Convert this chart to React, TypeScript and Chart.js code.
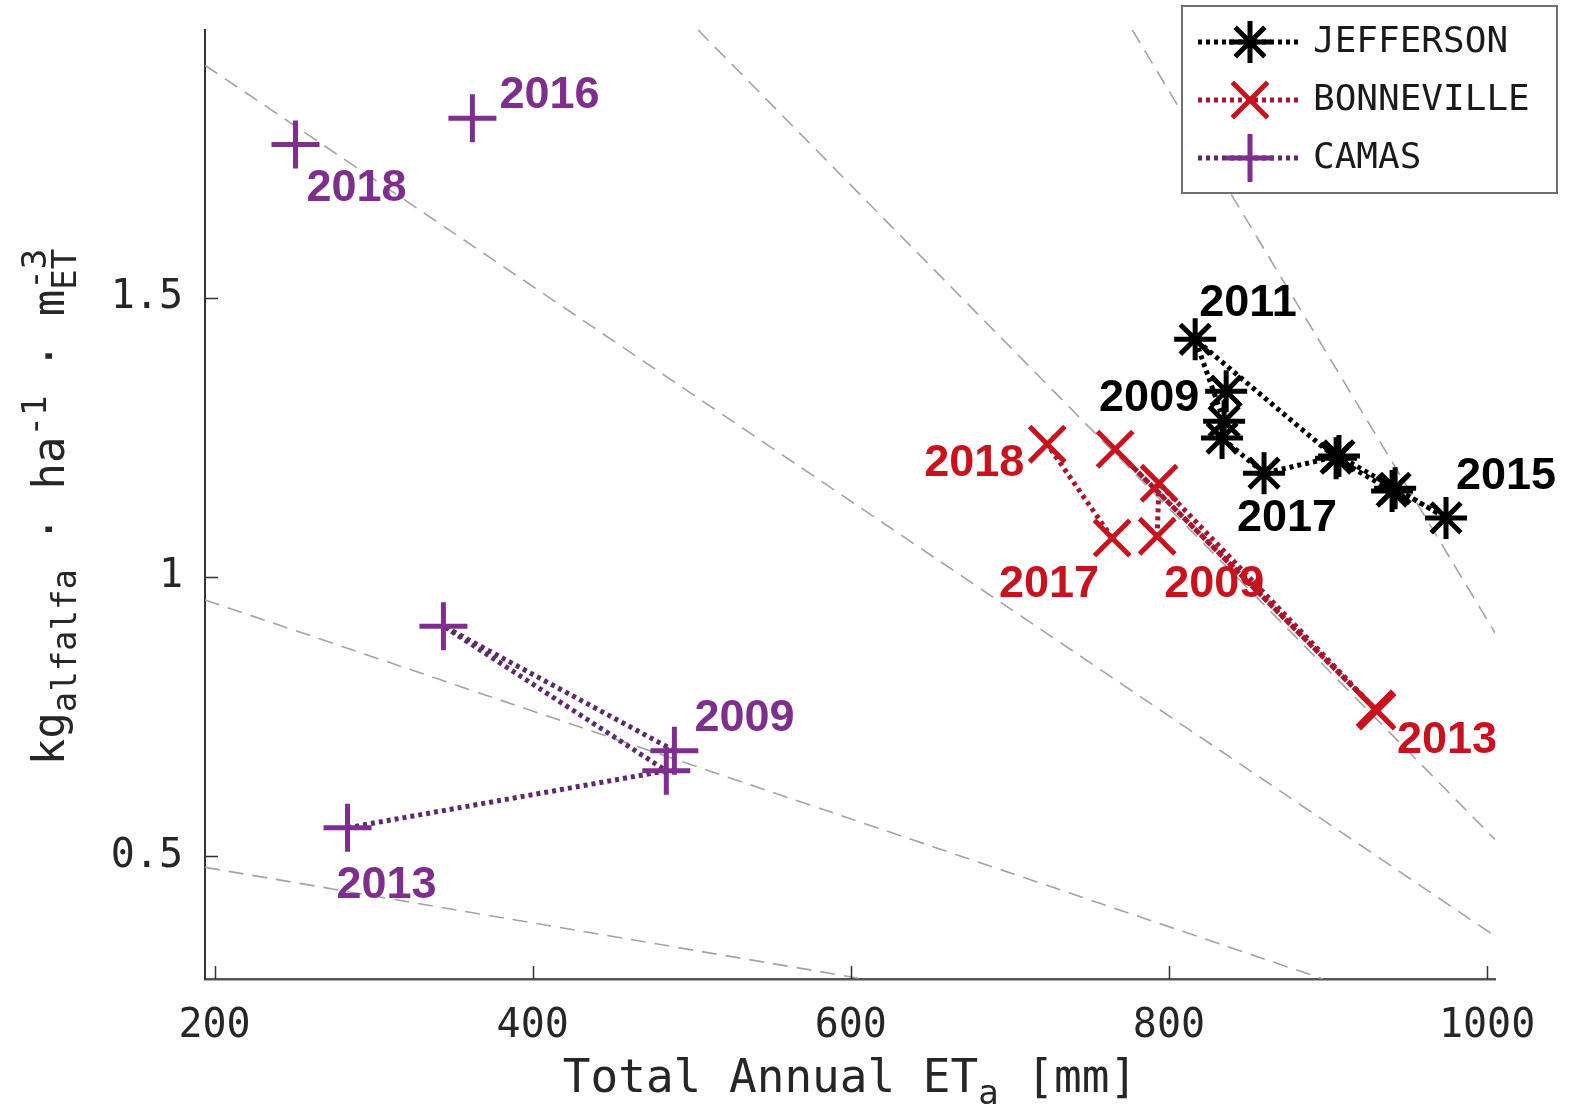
import React, { useEffect, useRef } from 'react';
import { Chart, registerables } from 'chart.js';

Chart.register(...registerables);

// ---------------- data ----------------
const xTickValues = [200, 400, 600, 800, 1000];
const yTickValues = [0.5, 1, 1.5];

const seriesNames = ['JEFFERSON', 'BONNEVILLE', 'CAMAS'];

const jeffersonET = [836.0, 834.7, 816.5, 905.1, 940.3, 942.2, 974.2, 906.9, 859.8, 833.4];
const jeffersonWP = [1.333, 1.279, 1.426, 1.213, 1.154, 1.159, 1.106, 1.217, 1.186, 1.249];
const jeffersonYears = ['2009', '', '2011', '', '', '', '2015', '', '2017', ''];

const bonnevilleET = [792.6, 793.8, 929.6, 766.2, 930.8, null, null, null, 764.3, 723.5];
const bonnevilleWP = [1.073, 1.168, 0.764, 1.229, 0.76, null, null, null, 1.07, 1.238];
const bonnevilleYears = ['2009', '', '', '', '2013', '', '', '', '2017', '2018'];

const camasET = [489.1, 343.9, 484.0, 283.6, null, 362.1, null, 250.9];
const camasWP = [0.689, 0.912, 0.653, 0.551, null, 1.822, null, 1.775];
const camasYears = ['2009', '', '', '2013', '', '2016', '', '2018'];

// dashed reference lines (start / end points)
const refStartET = [194, 194, 194, 504, 777];
const refStartWP = [1.917, 0.959, 0.48, 1.98, 1.98];
const refEndET = [1005, 897, 608, 1005, 1005];
const refEndWP = [0.357, 0.28, 0.28, 0.53, 0.9];

// ---------------- styles / layout ----------------
const markerColors = ['#000000', '#c8131f', '#7e2f8e'];
const lineColors = ['#000000', '#a8162e', '#5e2a6e'];
const pointStyles = ['star', 'crossRot', 'cross'];
const pointRadii = [21, 25, 24];

// label placement: index -> [dx, dy, align]
const jeffersonPlace: Record<number, [number, number, CanvasTextAlign]> = {
  0: [-27, 20, 'right'],
  2: [4, -23, 'left'],
  6: [10, -29, 'left'],
  8: [-27, 58, 'left'],
};
const bonnevillePlace: Record<number, [number, number, CanvasTextAlign]> = {
  0: [7, 61, 'left'],
  4: [20, 42, 'left'],
  8: [-13, 59, 'right'],
  9: [-23, 32, 'right'],
};
const camasPlace: Record<number, [number, number, CanvasTextAlign]> = {
  0: [20, -20, 'left'],
  3: [-11, 70, 'left'],
  5: [27, -10, 'left'],
  7: [11, 57, 'left'],
};

const MONO = '"DejaVu Sans Mono", monospace';

function mk(et: (number | null)[], wp: (number | null)[]) {
  return et.map((x, i) => ({ x, y: wp[i] }));
}

function drawMarker(ctx: CanvasRenderingContext2D, style: string, x: number, y: number, r: number) {
  ctx.beginPath();
  if (style === 'cross' || style === 'star') {
    ctx.moveTo(x - r, y); ctx.lineTo(x + r, y);
    ctx.moveTo(x, y - r); ctx.lineTo(x, y + r);
  }
  if (style === 'crossRot' || style === 'star') {
    const d = r * Math.SQRT1_2;
    ctx.moveTo(x - d, y - d); ctx.lineTo(x + d, y + d);
    ctx.moveTo(x - d, y + d); ctx.lineTo(x + d, y - d);
  }
  ctx.stroke();
}

type Part = { t: string; size: number; shift: number; stack?: { t: string; shift: number } };

function drawRich(ctx: CanvasRenderingContext2D, parts: Part[], cx: number, cy: number) {
  const widths = parts.map((p) => {
    ctx.font = `${p.size}px ${MONO}`;
    let w = ctx.measureText(p.t).width;
    if (p.stack) w = Math.max(w, ctx.measureText(p.stack.t).width);
    return w;
  });
  const total = widths.reduce((a, b) => a + b, 0);
  let x = cx - total / 2;
  ctx.textAlign = 'left';
  ctx.textBaseline = 'alphabetic';
  parts.forEach((p, i) => {
    ctx.font = `${p.size}px ${MONO}`;
    ctx.fillText(p.t, x, cy + p.shift);
    if (p.stack) ctx.fillText(p.stack.t, x, cy + p.stack.shift);
    x += widths[i];
  });
}

const labelPlugin = {
  id: 'yearLabels',
  afterDatasetsDraw(chart: any) {
    const ctx = chart.ctx as CanvasRenderingContext2D;
    const years = [jeffersonYears, bonnevilleYears, camasYears];
    const places = [jeffersonPlace, bonnevillePlace, camasPlace];
    ctx.save();
    ctx.font = 'bold 45px "Liberation Sans", Arial, sans-serif';
    ctx.textBaseline = 'alphabetic';
    years.forEach((ys, si) => {
      const meta = chart.getDatasetMeta(si);
      ys.forEach((yr, i) => {
        if (!yr) return;
        const el = meta.data[i];
        const pl = places[si][i];
        if (!el || !pl) return;
        ctx.fillStyle = markerColors[si];
        ctx.textAlign = pl[2];
        ctx.fillText(yr, el.x + pl[0], el.y + pl[1]);
      });
    });
    ctx.restore();
  },
};

const axisDecorPlugin = {
  id: 'axisDecor',
  afterDraw(chart: any) {
    const ctx = chart.ctx as CanvasRenderingContext2D;
    const { left, bottom } = chart.chartArea;
    const xs = chart.scales.x;
    const ys = chart.scales.y;
    ctx.save();
    // inward ticks
    ctx.strokeStyle = '#333333';
    ctx.lineWidth = 1.5;
    ctx.beginPath();
    xTickValues.forEach((v) => {
      const px = Math.round(xs.getPixelForValue(v)) + 0.5;
      ctx.moveTo(px, bottom);
      ctx.lineTo(px, bottom - 13);
    });
    yTickValues.forEach((v) => {
      const py = Math.round(ys.getPixelForValue(v)) + 0.5;
      ctx.moveTo(left, py);
      ctx.lineTo(left + 13, py);
    });
    ctx.stroke();

    // axis titles
    ctx.fillStyle = '#262626';
    drawRich(
      ctx,
      [
        { t: 'Total Annual ET', size: 46, shift: 0 },
        { t: 'a', size: 34, shift: 12 },
        { t: ' [mm]', size: 46, shift: 0 },
      ],
      850,
      1092
    );
    ctx.save();
    ctx.translate(64, 507);
    ctx.rotate(-Math.PI / 2);
    drawRich(
      ctx,
      [
        { t: 'kg', size: 44, shift: 0 },
        { t: 'alfalfa', size: 34, shift: 12 },
        { t: ' \u00b7 ha', size: 44, shift: 0 },
        { t: '-1', size: 34, shift: -18 },
        { t: ' \u00b7 m', size: 44, shift: 0 },
        { t: '-3', size: 34, shift: -18, stack: { t: 'ET', shift: 12 } },
      ],
      0,
      0
    );
    ctx.restore();
    ctx.restore();
  },
};

const legendPlugin = {
  id: 'boxLegend',
  afterDraw(chart: any) {
    const ctx = chart.ctx as CanvasRenderingContext2D;
    ctx.save();
    const bx = 1182, by = 6, bw = 375, bh = 187;
    ctx.fillStyle = '#ffffff';
    ctx.fillRect(bx, by, bw, bh);
    ctx.strokeStyle = '#6f6f6f';
    ctx.lineWidth = 2;
    ctx.strokeRect(bx, by, bw, bh);
    const rowY = [42, 100, 158];
    seriesNames.forEach((name, i) => {
      const y = rowY[i];
      ctx.strokeStyle = lineColors[i];
      ctx.lineWidth = 5;
      ctx.setLineDash([4, 4]);
      ctx.beginPath();
      ctx.moveTo(1198, y);
      ctx.lineTo(1302, y);
      ctx.stroke();
      ctx.setLineDash([]);
      ctx.strokeStyle = markerColors[i];
      ctx.lineWidth = 5;
      drawMarker(ctx, pointStyles[i], 1250, y, pointRadii[i]);
      ctx.fillStyle = '#1a1a1a';
      ctx.font = `36px ${MONO}`;
      ctx.textAlign = 'left';
      ctx.textBaseline = 'middle';
      ctx.fillText(name, 1313, y + 1);
    });
    ctx.restore();
  },
};

const zeroPad = (s: any) => {
  s.paddingTop = 0;
  s.paddingBottom = 0;
  s.paddingLeft = 0;
  s.paddingRight = 0;
};

export default function App() {
  const ref = useRef<HTMLCanvasElement | null>(null);

  useEffect(() => {
    document.body.style.margin = '0';
    const canvas = ref.current;
    if (!canvas) return;

    const etSets = [jeffersonET, bonnevilleET, camasET];
    const wpSets = [jeffersonWP, bonnevilleWP, camasWP];

    const seriesDatasets = seriesNames.map((name, i) => ({
      label: name,
      data: mk(etSets[i], wpSets[i]),
      showLine: true,
      spanGaps: false,
      borderColor: lineColors[i],
      borderWidth: 5,
      borderDash: [4, 4],
      borderCapStyle: 'butt' as const,
      pointStyle: pointStyles[i] as any,
      pointRadius: pointRadii[i],
      pointHoverRadius: pointRadii[i],
      pointBorderWidth: 5,
      pointHoverBorderWidth: 5,
      pointBorderColor: markerColors[i],
      pointBackgroundColor: markerColors[i],
      order: 1,
    }));

    const refDatasets = refStartET.map((s, i) => ({
      label: 'ref' + i,
      data: [
        { x: s, y: refStartWP[i] },
        { x: refEndET[i], y: refEndWP[i] },
      ],
      showLine: true,
      borderColor: '#a3a3a3',
      borderWidth: 1.6,
      borderDash: [15, 9],
      pointRadius: 0,
      pointHoverRadius: 0,
      order: 10,
    }));

    const chart = new Chart(canvas, {
      type: 'scatter',
      data: { datasets: [...seriesDatasets, ...refDatasets] as any },
      options: {
        responsive: false,
        animation: false,
        events: [],
        devicePixelRatio: 1,
        layout: { padding: { top: 30, right: 75, bottom: 0, left: 0 } },
        plugins: {
          legend: { display: false },
          tooltip: { enabled: false },
          title: { display: false },
        },
        scales: {
          x: {
            type: 'linear',
            min: 194,
            max: 1005,
            afterBuildTicks: (s: any) => {
              s.ticks = xTickValues.map((v) => ({ value: v }));
            },
            afterFit: (s: any) => {
              s.height = 136;
              zeroPad(s);
            },
            grid: { display: false, drawTicks: false },
            border: { display: true, color: '#555555', width: 2.5 },
            ticks: {
              font: { family: MONO, size: 40 },
              color: '#262626',
              padding: 24,
              autoSkip: false,
              maxRotation: 0,
              callback: (v: any) => String(v),
            },
          },
          y: {
            type: 'linear',
            min: 0.28,
            max: 1.98,
            afterBuildTicks: (s: any) => {
              s.ticks = yTickValues.map((v) => ({ value: v }));
            },
            afterFit: (s: any) => {
              s.width = 205;
              zeroPad(s);
            },
            grid: { display: false, drawTicks: false },
            border: { display: true, color: '#333333', width: 2 },
            ticks: {
              font: { family: MONO, size: 40 },
              color: '#262626',
              padding: 22,
              autoSkip: false,
              callback: (v: any) => String(v),
            },
          },
        },
      },
      plugins: [labelPlugin, axisDecorPlugin, legendPlugin],
    });

    return () => chart.destroy();
  }, []);

  return (
    <canvas
      ref={ref}
      width={1570}
      height={1115}
      style={{ display: 'block', width: 1570, height: 1115 }}
    />
  );
}
